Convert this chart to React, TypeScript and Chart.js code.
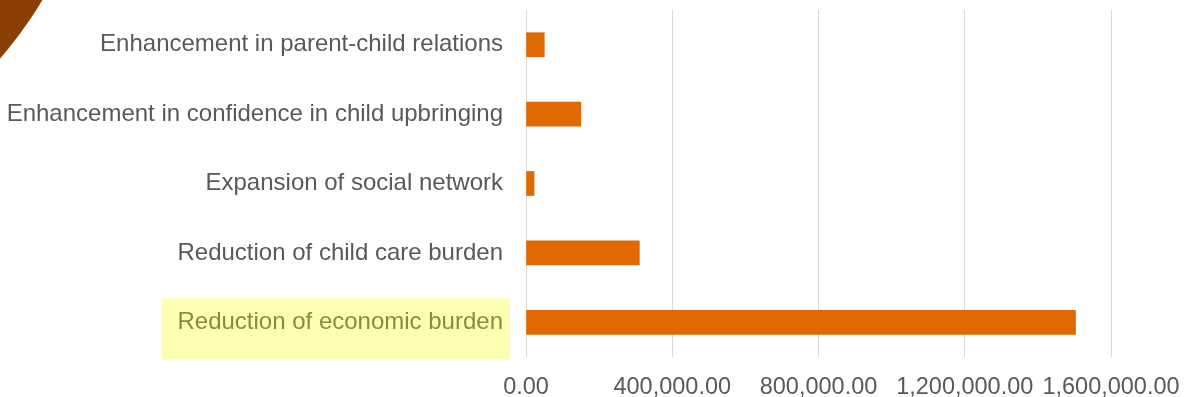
import React, { useEffect, useRef } from "react";
import { Chart, registerables } from "chart.js";

Chart.register(...registerables);

const categories = [
  "Enhancement in parent-child relations",
  "Enhancement in confidence in child upbringing",
  "Expansion of social network",
  "Reduction of child care burden",
  "Reduction of economic burden",
];
const values = [50000, 150000, 22000, 310000, 1503000];
const xTicks = [0, 400000, 800000, 1200000, 1600000];
const highlightedIndex = 4;

const fmt = new Intl.NumberFormat("en-US", { minimumFractionDigits: 2, maximumFractionDigits: 2 });

const highlightPlugin = {
  id: "labelHighlight",
  afterDraw(chart: any) {
    const { ctx, chartArea } = chart;
    const y = chart.scales.y;
    const cy = y.getPixelForValue(highlightedIndex);
    const right = chartArea.left - 16;
    const left = right - 348;
    ctx.save();
    ctx.fillStyle = "rgba(255,255,0,0.3)";
    ctx.fillRect(left, cy - 24, right - left, 61);
    ctx.restore();
  },
};

export default function App() {
  const ref = useRef<HTMLCanvasElement | null>(null);
  useEffect(() => {
    if (!ref.current) return;
    const chart = new Chart(ref.current, {
      type: "bar",
      data: {
        labels: categories,
        datasets: [
          {
            data: values,
            backgroundColor: "#E06A00",
            barThickness: 24,
          },
        ],
      },
      options: {
        indexAxis: "y",
        animation: false,
        responsive: true,
        maintainAspectRatio: false,
        layout: { padding: { top: 10, right: 74, left: 0, bottom: 0 } },
        plugins: { legend: { display: false }, tooltip: { enabled: false } },
        scales: {
          x: {
            min: 0,
            max: 1600000,
            afterBuildTicks: (s: any) => {
              s.ticks = xTicks.map((v) => ({ value: v }));
            },
            afterFit: (s: any) => {
              s.height = 40;
              s.paddingLeft = 0;
              s.paddingRight = 0;
            },
            grid: { color: "#d9d9d9", lineWidth: 1, drawTicks: false },
            border: { display: false },
            ticks: {
              color: "#595959",
              font: { family: "'Liberation Sans', Arial, sans-serif", size: 23.5 },
              padding: 16,
              maxRotation: 0,
              autoSkip: false,
              callback: (v: any) => fmt.format(Number(v)),
            },
          },
          y: {
            afterFit: (s: any) => {
              s.width = 526;
              s.paddingTop = 0;
              s.paddingBottom = 0;
            },
            grid: { display: false, drawTicks: false },
            border: { display: false },
            ticks: {
              color: "#595959",
              font: { family: "'Liberation Sans', Arial, sans-serif", size: 24 },
              padding: 23,
              autoSkip: false,
            },
          },
        },
      },
      plugins: [highlightPlugin],
    });
    return () => chart.destroy();
  }, []);

  return (
    <div
      style={{
        position: "fixed",
        left: 0,
        top: 0,
        width: 1185,
        height: 397,
        overflow: "hidden",
        background: "#ffffff",
      }}
    >
      <div
        style={{
          position: "absolute",
          left: -725,
          top: -625,
          width: 826,
          height: 826,
          borderRadius: "50%",
          background: "#8B3F02",
        }}
      />
      <canvas ref={ref} style={{ position: "absolute", left: 0, top: 0, width: 1185, height: 397 }} />
    </div>
  );
}
